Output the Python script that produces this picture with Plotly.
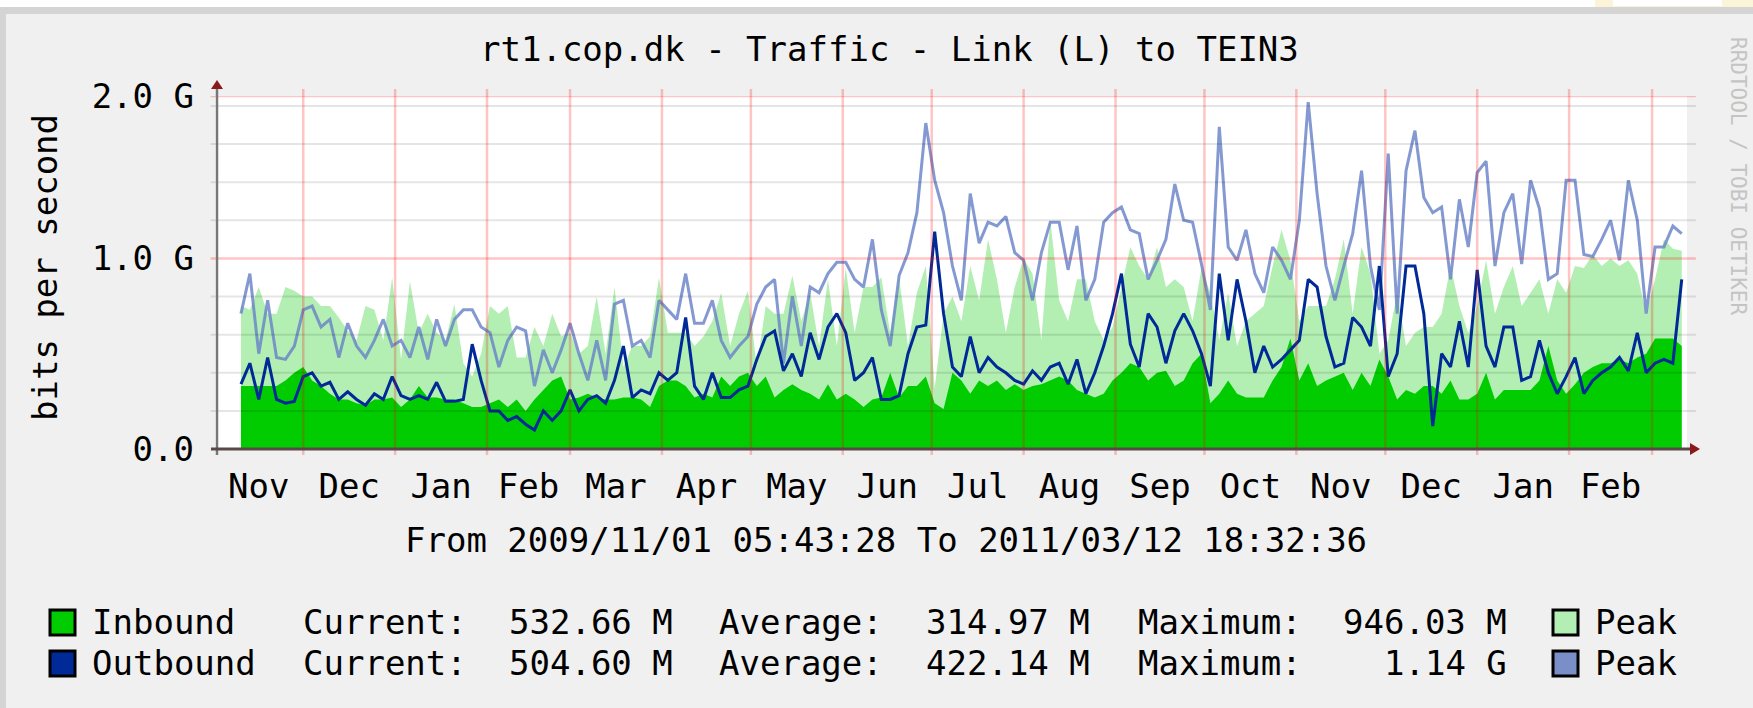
import pandas as pd
import plotly.graph_objects as go

# ---------------- data (Gbit/s, one reading every 3 days) ----------------
start_date = "2009-11-10"
step = "3D"

in_avg = [0.33,0.33,0.33,0.33,0.33,0.36,0.40,0.43,0.36,0.33,0.29,0.26,0.26,0.24,0.23,0.26,0.26,0.27,0.22,0.26,0.33,0.27,0.27,0.26,0.26,
          0.24,0.22,0.22,0.24,0.26,0.22,0.26,0.20,0.26,0.31,0.36,0.38,0.26,0.27,0.29,0.27,0.26,0.26,0.27,0.27,0.26,0.22,0.33,0.36,0.36,0.33,0.27,0.29,
          0.27,0.38,0.33,0.38,0.40,0.33,0.38,0.27,0.31,0.34,0.31,0.29,0.26,0.34,0.26,0.29,0.26,0.22,0.26,0.27,0.40,0.27,0.33,0.33,0.38,0.24,0.21,
          0.40,0.36,0.29,0.36,0.33,0.36,0.31,0.34,0.31,0.33,0.34,0.36,0.38,0.36,0.31,0.29,0.27,0.29,0.36,0.40,0.45,0.43,0.36,0.40,0.41,0.33,0.36,0.45,
          0.50,0.24,0.29,0.36,0.29,0.27,0.27,0.27,0.36,0.43,0.58,0.36,0.45,0.33,0.36,0.38,0.40,0.31,0.40,0.33,0.47,0.38,0.26,0.31,0.29,0.33,0.33,
          0.29,0.36,0.26,0.26,0.29,0.40,0.26,0.31,0.31,0.31,0.31,0.36,0.54,0.36,0.29,0.34,0.40,0.43,0.45,0.45,0.47,0.45,0.48,0.50,0.58,0.58,0.58,0.54]

in_peak = [0.75,0.73,0.85,0.71,0.71,0.85,0.83,0.80,0.80,0.75,0.75,0.69,0.62,0.57,0.75,0.73,0.57,0.90,0.47,0.88,0.61,0.71,0.61,0.57,0.76,
           0.45,0.38,0.50,0.75,0.71,0.75,0.48,0.48,0.64,0.54,0.71,0.59,0.61,0.50,0.54,0.80,0.50,0.85,0.43,0.54,0.54,0.59,0.90,0.61,0.61,0.61,0.54,0.59,
           0.67,0.82,0.54,0.71,0.83,0.43,0.75,0.71,0.71,0.91,0.67,0.82,0.54,0.89,0.54,0.95,0.61,0.85,0.85,0.90,0.61,0.90,0.54,0.82,0.96,0.32,0.71,
           0.80,0.67,0.96,0.78,1.10,0.89,0.61,0.85,1.00,0.92,0.57,1.20,0.78,0.67,0.89,0.89,0.67,0.57,0.64,0.85,1.06,0.96,0.89,1.06,0.85,0.89,0.85,0.67,
           0.95,0.82,0.57,0.82,0.54,0.67,0.71,0.75,0.96,1.15,0.99,0.67,0.75,0.75,0.75,0.89,1.10,0.71,1.06,0.92,0.50,0.57,0.82,0.54,0.61,0.64,0.64,
           0.71,0.96,0.75,0.61,0.75,0.99,0.71,0.85,0.96,0.75,0.82,0.89,0.71,0.89,0.82,0.96,0.95,1.02,0.96,1.00,0.96,0.99,0.92,0.71,0.89,1.10,1.05,1.04]

out_peak = [0.71,0.92,0.50,0.78,0.48,0.47,0.54,0.73,0.75,0.64,0.68,0.48,0.66,0.54,0.48,0.57,0.68,0.54,0.57,0.48,0.64,0.47,0.68,0.54,0.68,
            0.73,0.73,0.64,0.61,0.43,0.57,0.64,0.62,0.33,0.52,0.40,0.52,0.66,0.50,0.36,0.57,0.36,0.76,0.78,0.54,0.57,0.48,0.78,0.73,0.68,0.92,0.66,0.66,
            0.78,0.57,0.48,0.54,0.59,0.76,0.85,0.89,0.45,0.80,0.54,0.85,0.82,0.92,0.98,0.98,0.89,0.85,1.10,0.73,0.54,0.91,1.03,1.24,1.71,1.41,1.24,
            0.96,0.78,1.34,1.08,1.19,1.17,1.22,1.03,0.99,0.78,1.03,1.19,1.19,0.94,1.17,0.78,0.89,1.19,1.24,1.27,1.15,1.13,0.89,0.99,1.10,1.39,1.20,1.19,
            0.97,0.73,1.69,1.06,0.99,1.15,0.92,0.82,1.06,0.99,0.89,1.20,1.82,1.34,0.96,0.78,0.96,1.13,1.46,0.96,0.73,1.55,0.71,1.46,1.67,1.32,1.24,
            1.27,0.89,1.31,1.06,1.45,1.51,0.96,1.24,1.34,0.97,1.41,1.26,0.89,0.92,1.41,1.41,1.02,1.01,1.10,1.20,0.99,1.41,1.20,0.71,1.06,1.06,1.17,1.13]

out_avg = [0.34,0.45,0.26,0.48,0.26,0.24,0.25,0.38,0.40,0.33,0.35,0.26,0.30,0.26,0.23,0.29,0.26,0.38,0.28,0.26,0.28,0.26,0.35,0.25,0.25,
           0.26,0.55,0.36,0.20,0.20,0.15,0.17,0.13,0.10,0.20,0.15,0.20,0.31,0.20,0.26,0.28,0.24,0.36,0.54,0.27,0.31,0.29,0.40,0.36,0.40,0.69,0.33,0.26,
           0.40,0.27,0.27,0.31,0.33,0.47,0.59,0.62,0.41,0.50,0.38,0.61,0.47,0.64,0.71,0.61,0.36,0.40,0.48,0.26,0.26,0.28,0.50,0.64,0.65,1.14,0.71,
           0.43,0.38,0.59,0.40,0.48,0.43,0.40,0.36,0.34,0.41,0.36,0.43,0.45,0.34,0.47,0.29,0.40,0.54,0.71,0.92,0.55,0.43,0.71,0.64,0.45,0.62,0.71,0.62,
           0.50,0.33,0.92,0.57,0.89,0.67,0.40,0.54,0.43,0.47,0.52,0.57,0.89,0.85,0.59,0.43,0.45,0.69,0.64,0.54,0.96,0.38,0.50,0.96,0.96,0.71,0.12,
           0.50,0.43,0.67,0.43,0.94,0.54,0.43,0.64,0.64,0.36,0.38,0.57,0.40,0.29,0.38,0.48,0.29,0.36,0.40,0.43,0.48,0.41,0.61,0.40,0.45,0.47,0.45,0.89]

month_labels = ["Nov", "Dec", "Jan", "Feb", "Mar", "Apr", "May", "Jun",
                "Jul", "Aug", "Sep", "Oct", "Nov", "Dec", "Jan", "Feb"]
y_tick_vals = [0.0, 1.0, 1.852]
y_tick_text = ["0.0", "1.0 G", "2.0 G"]
y_minor_vals = [0.2, 0.4, 0.6, 0.8, 1.2, 1.4, 1.6, 1.8]

title_text = "rt1.cop.dk - Traffic - Link (L) to TEIN3"
range_text = "From 2009/11/01 05:43:28 To 2011/03/12 18:32:36"
legend_names = ["Inbound", "Outbound"]
current_vals = ["532.66 M", "504.60 M"]
average_vals = ["314.97 M", "422.14 M"]
maximum_vals = ["946.03 M", "1.14 G"]

x_start = "2009-11-01 05:43:28"
x_end = "2011-03-12 18:32:36"

# ---------------- styling ----------------
W_FIG, H_FIG = 1753, 708
L, R, T, B = 215, 1687, 96, 449
PW, PH = R - L, B - T
FONT = "DejaVu Sans Mono"
C_IN, C_IN_PK = "#00cc00", "#b3efb3"
C_OUT, C_OUT_PK = "#002a97", "rgba(105,130,200,0.82)"
RED_GRID = "rgba(255,0,0,0.23)"
GREY_GRID = "rgba(0,0,0,0.10)"


def px(x):
    return (x - L) / PW


def py(y):
    return (B - y) / PH


dates = pd.date_range(start_date, periods=len(in_avg), freq=step)
month_starts = pd.date_range("2009-11-01", "2011-03-01", freq="MS")
mid_months = [month_starts[i] + (month_starts[i + 1] - month_starts[i]) / 2
              for i in range(len(month_labels))]
grid_months = month_starts[1:]

fig = go.Figure()
fig.add_trace(go.Scatter(x=dates, y=in_peak, mode="lines", fill="tozeroy",
                         fillcolor=C_IN_PK, line=dict(width=0, color=C_IN_PK),
                         hoverinfo="skip"))
fig.add_trace(go.Scatter(x=dates, y=in_avg, mode="lines", fill="tozeroy",
                         fillcolor=C_IN, line=dict(width=0, color=C_IN),
                         hoverinfo="skip"))
fig.add_trace(go.Scatter(x=dates, y=out_peak, mode="lines",
                         line=dict(width=3, color=C_OUT_PK), hoverinfo="skip"))
fig.add_trace(go.Scatter(x=dates, y=out_avg, mode="lines",
                         line=dict(width=3, color=C_OUT), hoverinfo="skip"))

shapes = []
for v in y_minor_vals:
    shapes.append(dict(type="line", xref="x domain", yref="y", x0=-0.003, x1=1.006,
                       y0=v, y1=v, line=dict(color=GREY_GRID, width=2), layer="above"))
for v in y_tick_vals[1:]:
    shapes.append(dict(type="line", xref="x domain", yref="y", x0=-0.003, x1=1.006,
                       y0=v, y1=v, line=dict(color=RED_GRID, width=2.5), layer="above"))
for d in grid_months:
    shapes.append(dict(type="line", xref="x", yref="y domain", x0=d, x1=d,
                       y0=-0.017, y1=1.02, line=dict(color=RED_GRID, width=2.5), layer="above"))
# axes
shapes.append(dict(type="line", xref="paper", yref="paper", x0=px(217), x1=px(217),
                   y0=py(455), y1=py(86), line=dict(color="#777777", width=2.5), layer="above"))
shapes.append(dict(type="line", xref="paper", yref="paper", x0=px(211), x1=px(1692),
                   y0=py(449), y1=py(449), line=dict(color="#5a4848", width=3), layer="above"))
# arrow heads
shapes.append(dict(type="path", xref="paper", yref="paper", layer="above",
                   path=f"M {px(211)} {py(89)} L {px(223)} {py(89)} L {px(217)} {py(80)} Z",
                   fillcolor="#8b1a1a", line=dict(width=0)))
shapes.append(dict(type="path", xref="paper", yref="paper", layer="above",
                   path=f"M {px(1690)} {py(443)} L {px(1690)} {py(455)} L {px(1700)} {py(449)} Z",
                   fillcolor="#8b1a1a", line=dict(width=0)))
# frame decoration
shapes.append(dict(type="rect", xref="paper", yref="paper", x0=px(0), x1=px(W_FIG),
                   y0=py(0), y1=py(7), fillcolor="#ffffff", line=dict(width=0), layer="below"))
shapes.append(dict(type="rect", xref="paper", yref="paper", x0=px(0), x1=px(W_FIG),
                   y0=py(7), y1=py(14), fillcolor="#d4d4d4", line=dict(width=0), layer="below"))
shapes.append(dict(type="rect", xref="paper", yref="paper", x0=px(0), x1=px(6),
                   y0=py(7), y1=py(H_FIG), fillcolor="#d4d4d4", line=dict(width=0), layer="below"))
shapes.append(dict(type="rect", xref="paper", yref="paper", x0=px(1595), x1=px(W_FIG),
                   y0=py(0), y1=py(7), fillcolor="#fbf4d8", line=dict(width=0), layer="below"))
shapes.append(dict(type="rect", xref="paper", yref="paper", x0=px(1613), x1=px(1722),
                   y0=py(0), y1=py(6), fillcolor="#ffffff", line=dict(width=0), layer="below"))

annotations = []


def txt(s, x, y, anchor="left", size=34, color="#000000", angle=0):
    annotations.append(dict(text=s, xref="paper", yref="paper", x=px(x), y=py(y),
                            xanchor=anchor, yanchor="middle", showarrow=False,
                            textangle=angle,
                            font=dict(family=FONT, size=size, color=color)))


txt(title_text, 889, 49, "center")
txt("bits per second", 45, 268, "center", angle=-90)
txt(range_text, 886, 540, "center")
txt("RRDTOOL / TOBI OETIKER", 1738, 176, "center", size=21, color="#c4c4c4", angle=90)

row_y = [622, 663]
sw_fill = [(C_IN, C_IN_PK), (C_OUT, "#7a8fc8")]
for k in range(2):
    y = row_y[k]
    txt(legend_names[k], 90, y)
    txt("Current:", 301, y)
    txt(current_vals[k], 675, y, "right")
    txt("Average:", 717, y)
    txt(average_vals[k], 1092, y, "right")
    txt("Maximum:", 1136, y)
    txt(maximum_vals[k], 1509, y, "right")
    txt("Peak", 1593, y)
    for (x0, col) in ((50, sw_fill[k][0]), (1553, sw_fill[k][1])):
        shapes.append(dict(type="rect", xref="paper", yref="paper",
                           x0=px(x0), x1=px(x0 + 25), y0=py(y - 12), y1=py(y + 13),
                           fillcolor=col, line=dict(color="#000000", width=3), layer="above"))

fig.update_layout(
    width=W_FIG, height=H_FIG, autosize=False,
    margin=dict(l=L, r=W_FIG - R, t=T, b=H_FIG - B, pad=0),
    paper_bgcolor="#f0f0f0", plot_bgcolor="#ffffff",
    showlegend=False,
    shapes=shapes, annotations=annotations,
    xaxis=dict(type="date", range=[x_start, x_end], showgrid=False, zeroline=False,
               showline=False, ticks="", tickmode="array", tickvals=mid_months,
               ticktext=month_labels, ticklabelstandoff=14,
               tickfont=dict(family=FONT, size=34, color="#000000"), fixedrange=True),
    yaxis=dict(range=[0, 1.852], showgrid=False, zeroline=False, showline=False,
               ticks="", tickmode="array", tickvals=y_tick_vals, ticktext=y_tick_text,
               ticklabelstandoff=20,
               tickfont=dict(family=FONT, size=34, color="#000000"), fixedrange=True),
)

fig.write_html("out.html", post_script="document.body.style.margin='0';",
               config={"displayModeBar": False})
